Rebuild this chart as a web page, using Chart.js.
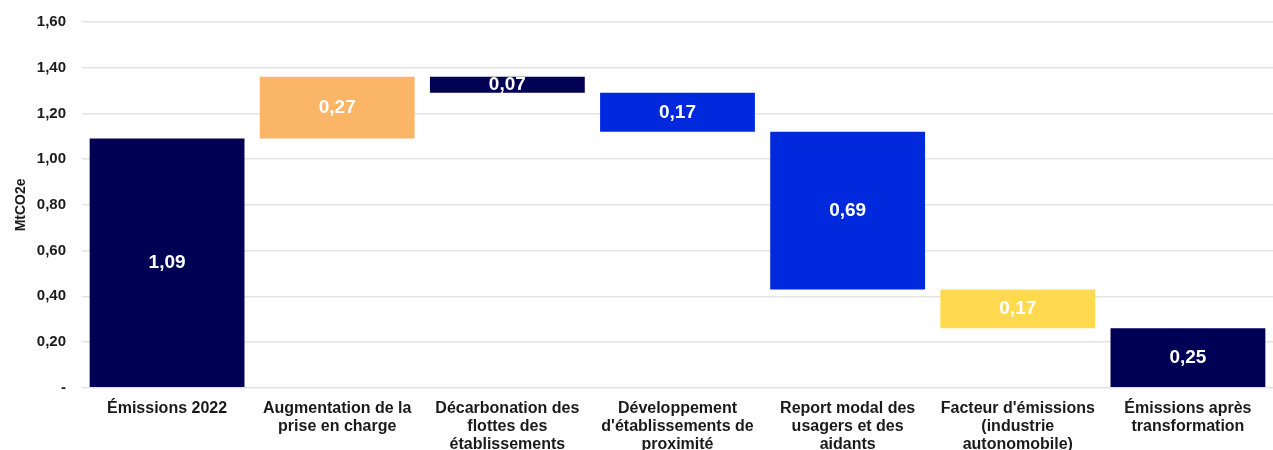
<!DOCTYPE html>
<html>
<head>
<meta charset="utf-8">
<script src="https://cdn.jsdelivr.net/npm/chart.js@4"></script>
<style>
  html, body { margin: 0; padding: 0; background: #fff; overflow: hidden; }
  #wrap { position: relative; top: -3px; width: 1273px; height: 461px; }
</style>
</head>
<body>
<div id="wrap"><canvas id="chart"></canvas></div>
<script>
// Waterfall data (MtCO2e)
var categories = [
    "Émissions 2022",
    ["Augmentation de la", "prise en charge"],
    ["Décarbonation des", "flottes des", "établissements"],
    ["Développement", "d'établissements de", "proximité"],
    ["Report modal des", "usagers et des", "aidants"],
    ["Facteur d'émissions", "(industrie", "autonomobile)"],
    ["Émissions après", "transformation"]
];
var barStart = [0, 1.09, 1.29, 1.12, 0.43, 0.26, 0];
var barEnd = [1.09, 1.36, 1.36, 1.29, 1.12, 0.43, 0.26];
var valueLabels = ["1,09", "0,27", "0,07", "0,17", "0,69", "0,17", "0,25"];
var barColors = ["#000055", "#FBB566", "#000055", "#0029DD", "#0029DD", "#FFDA50", "#000055"];
var yTicks = [0, 0.2, 0.4, 0.6, 0.8, 1.0, 1.2, 1.4, 1.6];

var ranges = barStart.map(function (s, i) { return [s, barEnd[i]]; });

// draw the value in the middle of each bar
var valuePlugin = {
    id: "valueLabels",
    afterDatasetsDraw: function (chart) {
        var ctx = chart.ctx;
        var meta = chart.getDatasetMeta(0);
        ctx.save();
        ctx.fillStyle = "#fff";
        ctx.font = "bold 19px 'Liberation Sans', Arial, sans-serif";
        ctx.textAlign = "center";
        ctx.textBaseline = "middle";
        meta.data.forEach(function (bar, i) {
            ctx.fillText(valueLabels[i], bar.x, (bar.y + bar.base) / 2);
        });
        ctx.restore();
    }
};

new Chart(document.getElementById("chart"), {
    type: "bar",
    data: {
        labels: categories,
        datasets: [{
            data: ranges,
            backgroundColor: barColors,
            borderWidth: 0,
            barPercentage: 0.91,
            categoryPercentage: 1.0
        }]
    },
    options: {
        responsive: true,
        maintainAspectRatio: false,
        animation: false,
        layout: { padding: { top: 0, right: 0, left: 13, bottom: 0 } },
        plugins: {
            legend: { display: false },
            tooltip: { enabled: false }
        },
        scales: {
            x: {
                grid: { display: false },
                border: { display: false },
                ticks: {
                    color: "#1a1a1a",
                    font: { family: "'Liberation Sans', Arial, sans-serif", size: 16, weight: "bold", lineHeight: 1.13 },
                    maxRotation: 0,
                    autoSkip: false,
                    padding: 4
                }
            },
            y: {
                min: 0,
                max: 1.6,
                afterBuildTicks: function (axis) {
                    axis.ticks = yTicks.map(function (v) { return { value: v }; });
                },
                grid: { color: "#e3e3e3", lineWidth: 1.5, drawTicks: false },
                border: { display: false },
                title: {
                    display: true,
                    text: "MtCO2e",
                    color: "#1a1a1a",
                    font: { family: "'Liberation Sans', Arial, sans-serif", size: 14, weight: "bold" },
                    padding: { top: 0, bottom: -9 }
                },
                ticks: {
                    color: "#1a1a1a",
                    padding: 16,
                    font: { family: "'Liberation Sans', Arial, sans-serif", size: 15, weight: "bold" },
                    callback: function (v) {
                        if (v === 0) return "-";
                        return v.toFixed(2).replace(".", ",");
                    }
                }
            }
        }
    },
    plugins: [valuePlugin]
});
</script>
</body>
</html>
